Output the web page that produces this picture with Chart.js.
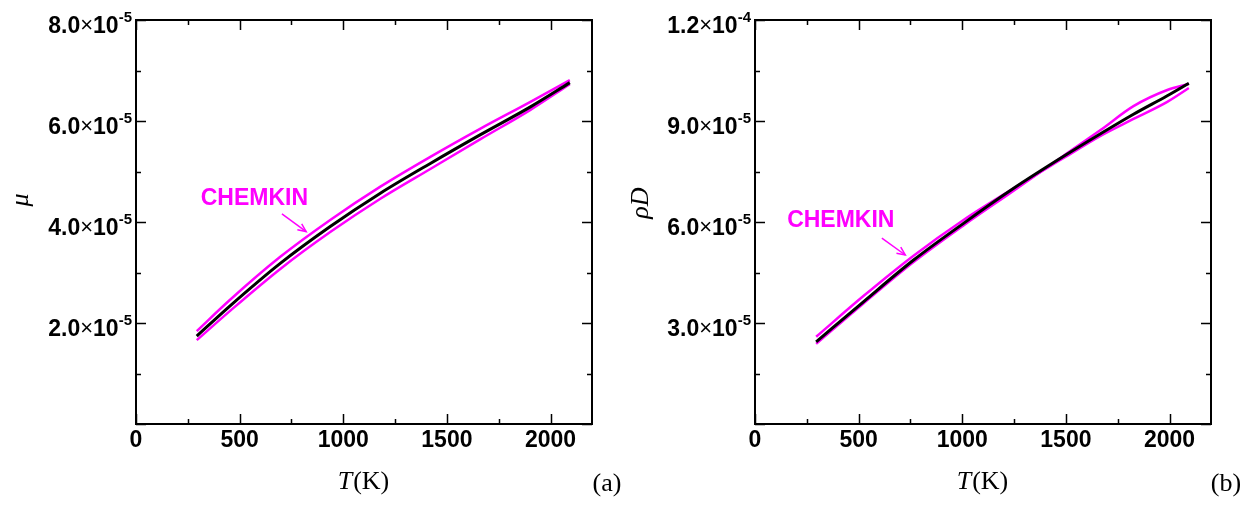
<!DOCTYPE html>
<html>
<head>
<meta charset="utf-8">
<script src="https://cdn.jsdelivr.net/npm/chart.js@4.4.1/dist/chart.umd.min.js"></script>
<style>
  html, body { margin: 0; padding: 0; background: #ffffff; }
  #wrap { position: relative; width: 1258px; height: 508px; overflow: hidden; }
  .panel { position: absolute; top: 0; width: 629px; height: 508px; }
  canvas { display: block; }
</style>
</head>
<body>
<div id="wrap">
  <div class="panel" style="left:0"><canvas id="chartA" width="629" height="508"></canvas></div>
  <div class="panel" style="left:629px"><canvas id="chartB" width="629" height="508"></canvas></div>
</div>
<script>
// ---------- data: panel (a) viscosity mu ----------
const T_A = [293, 454, 696, 937, 1179, 1420, 1662, 1903, 2093];
const MU_MODEL = [1.74e-5, 2.34e-5, 3.18e-5, 3.91e-5, 4.57e-5, 5.16e-5, 5.73e-5, 6.28e-5, 6.76e-5];
const MU_CHEMKIN_UPPER = [1.84e-5, 2.46e-5, 3.31e-5, 4.04e-5, 4.70e-5, 5.29e-5, 5.85e-5, 6.38e-5, 6.81e-5];
const MU_CHEMKIN_LOWER = [1.66e-5, 2.24e-5, 3.07e-5, 3.80e-5, 4.46e-5, 5.05e-5, 5.64e-5, 6.22e-5, 6.73e-5];

// ---------- data: panel (b) rho*D ----------
const T_B = [295, 523, 765, 1006, 1248, 1489, 1667, 1826, 1989, 2093];
const RHOD_MODEL = [2.44e-5, 3.63e-5, 4.87e-5, 5.96e-5, 7.00e-5, 7.95e-5, 8.62e-5, 9.20e-5, 9.75e-5, 10.12e-5];
const RHOD_CHEMKIN_A = [2.59e-5, 3.80e-5, 5.00e-5, 6.06e-5, 7.00e-5, 7.90e-5, 8.56e-5, 9.06e-5, 9.57e-5, 9.98e-5];
const RHOD_CHEMKIN_B = [2.38e-5, 3.58e-5, 4.81e-5, 5.90e-5, 6.93e-5, 7.97e-5, 8.73e-5, 9.44e-5, 9.92e-5, 10.10e-5];

// ---------- tick labels ----------
const X_TICKS = [0, 500, 1000, 1500, 2000];
const Y_TICKS_A = [2e-5, 4e-5, 6e-5, 8e-5];
const Y_MANT_A = ['2.0', '4.0', '6.0', '8.0'];
const Y_EXP_A = ['-5', '-5', '-5', '-5'];
const Y_TICKS_B = [3e-5, 6e-5, 9e-5, 12e-5];
const Y_MANT_B = ['3.0', '6.0', '9.0', '1.2'];
const Y_EXP_B = ['-5', '-5', '-5', '-4'];

// annotation anchor points in data coordinates
const NOTE_A = { label: 'CHEMKIN', text: [312, 4.47e-5], from: [704, 4.16e-5], to: [821, 3.81e-5] };
const NOTE_B = { label: 'CHEMKIN', text: [155, 6.03e-5], from: [612, 5.52e-5], to: [725, 5.02e-5] };

const MAGENTA = '#ff00ff';
const SANS = '"Liberation Sans", Arial, sans-serif';
const SERIF = '"Liberation Serif", "Times New Roman", serif';

function pts(xs, ys) { return xs.map((x, i) => ({ x: x, y: ys[i] })); }

function makePlugin(cfg) {
  return {
    id: 'decor_' + cfg.tag,
    afterDraw(chart) {
      const ctx = chart.ctx;
      const xs = chart.scales.x, ys = chart.scales.y;
      const a = chart.chartArea;
      ctx.save();
      ctx.strokeStyle = '#000';
      ctx.fillStyle = '#000';
      ctx.lineWidth = 2;
      // frame
      ctx.strokeRect(a.left, a.top, a.right - a.left, a.bottom - a.top);
      // x ticks (major 500, minor 250), inward on bottom and top
      ctx.lineWidth = 1.5;
      for (let v = 0; v <= 2200 + 1e-9; v += 250) {
        const px = Math.round(xs.getPixelForValue(v)) + 0.5;
        const len = (v % 500 === 0) ? 10 : 5;
        ctx.beginPath();
        ctx.moveTo(px, a.bottom); ctx.lineTo(px, a.bottom - len);
        ctx.moveTo(px, a.top); ctx.lineTo(px, a.top + len);
        ctx.stroke();
      }
      // y ticks
      const nMinor = Math.round(cfg.yMax / cfg.yMinor);
      for (let i = 0; i <= nMinor; i++) {
        const v = i * cfg.yMinor;
        const py = Math.round(ys.getPixelForValue(v)) + 0.5;
        const len = (i % 2 === 0) ? 10 : 5;
        ctx.beginPath();
        ctx.moveTo(a.left, py); ctx.lineTo(a.left + len, py);
        ctx.moveTo(a.right, py); ctx.lineTo(a.right - len, py);
        ctx.stroke();
      }
      // x tick labels
      ctx.font = 'bold 23px ' + SANS;
      ctx.textAlign = 'center';
      ctx.textBaseline = 'alphabetic';
      X_TICKS.forEach(v => {
        ctx.fillText(String(v), xs.getPixelForValue(v), a.bottom + 23);
      });
      // y tick labels with superscript exponent
      ctx.textAlign = 'left';
      cfg.yTicks.forEach((v, i) => {
        const py = ys.getPixelForValue(v);
        const mant = cfg.mant[i], ex = cfg.exp[i];
        ctx.font = 'bold 23px ' + SANS; const w1 = ctx.measureText(mant).width;
        ctx.font = '22px ' + SANS; const w2 = ctx.measureText('\u00d7').width;
        ctx.font = 'bold 23px ' + SANS; const w3 = ctx.measureText('10').width;
        ctx.font = 'bold 15px ' + SANS; const w4 = ctx.measureText(ex).width;
        let x0 = a.left - 4 - (w1 + w2 + w3 + w4);
        const base = py + 13;
        ctx.font = 'bold 23px ' + SANS; ctx.fillText(mant, x0, base); x0 += w1;
        ctx.font = '22px ' + SANS; ctx.fillText('\u00d7', x0, base - 1); x0 += w2;
        ctx.font = 'bold 23px ' + SANS; ctx.fillText('10', x0, base); x0 += w3;
        ctx.font = 'bold 15px ' + SANS; ctx.fillText(ex, x0, py + 2);
      });
      // x axis title: T(K)
      ctx.textBaseline = 'alphabetic';
      ctx.font = 'italic 26px ' + SERIF;
      const wT = ctx.measureText('T').width;
      ctx.font = '26px ' + SERIF;
      const wK = ctx.measureText('(K)').width;
      const tx0 = (a.left + a.right) / 2 - (wT + wK) / 2 - 1;
      ctx.font = 'italic 26px ' + SERIF; ctx.fillText('T', tx0, 489);
      ctx.font = '26px ' + SERIF; ctx.fillText('(K)', tx0 + wT + 1, 489);
      // panel tag
      ctx.textAlign = 'center';
      ctx.fillText(cfg.tagText, a.right + 15, 491);
      // y axis title (rotated)
      ctx.save();
      ctx.translate(cfg.yTitleX, cfg.yTitleY);
      ctx.rotate(-Math.PI / 2);
      ctx.font = 'italic 26px ' + SERIF;
      ctx.textAlign = 'center';
      ctx.textBaseline = 'middle';
      ctx.fillText(cfg.yTitle, 0, 0);
      ctx.restore();
      // CHEMKIN annotation
      const n = cfg.note;
      ctx.fillStyle = MAGENTA;
      ctx.strokeStyle = MAGENTA;
      ctx.font = 'bold 23px ' + SANS;
      ctx.textAlign = 'left';
      ctx.textBaseline = 'middle';
      ctx.fillText(n.label, xs.getPixelForValue(n.text[0]), ys.getPixelForValue(n.text[1]));
      const fx = xs.getPixelForValue(n.from[0]), fy = ys.getPixelForValue(n.from[1]);
      const tx = xs.getPixelForValue(n.to[0]), ty = ys.getPixelForValue(n.to[1]);
      ctx.lineWidth = 1.5;
      ctx.beginPath(); ctx.moveTo(fx, fy); ctx.lineTo(tx, ty); ctx.stroke();
      const ang = Math.atan2(ty - fy, tx - fx);
      const hl = 9, hw = 0.42;
      ctx.beginPath();
      ctx.moveTo(tx - hl * Math.cos(ang - hw), ty - hl * Math.sin(ang - hw));
      ctx.lineTo(tx, ty);
      ctx.lineTo(tx - hl * Math.cos(ang + hw), ty - hl * Math.sin(ang + hw));
      ctx.stroke();
      ctx.restore();
    }
  };
}

function makeChart(id, cfg) {
  return new Chart(document.getElementById(id), {
    type: 'line',
    data: {
      datasets: [
        { label: 'model', data: pts(cfg.T, cfg.model), borderColor: '#000', borderWidth: 3, order: 0 },
        { label: 'CHEMKIN', data: pts(cfg.T, cfg.up), borderColor: MAGENTA, borderWidth: 2.5, order: 1 },
        { label: 'CHEMKIN', data: pts(cfg.T, cfg.low), borderColor: MAGENTA, borderWidth: 2.5, order: 2 }
      ]
    },
    options: {
      responsive: false,
      animation: false,
      devicePixelRatio: 1,
      layout: { padding: { left: 0, right: cfg.padRight, top: 20, bottom: 0 } },
      elements: { point: { radius: 0 }, line: { cubicInterpolationMode: 'monotone', fill: false } },
      plugins: { legend: { display: false }, title: { display: false }, tooltip: { enabled: false } },
      scales: {
        x: {
          type: 'linear', min: 0, max: 2200,
          ticks: { display: false, stepSize: 250 },
          grid: { display: false }, border: { display: false },
          afterFit(s) { s.height = 84; }
        },
        y: {
          type: 'linear', min: 0, max: cfg.yMax,
          ticks: { display: false, stepSize: cfg.yMinor },
          grid: { display: false }, border: { display: false },
          afterFit(s) { s.width = cfg.yWidth; }
        }
      }
    },
    plugins: [makePlugin(cfg)]
  });
}

makeChart('chartA', {
  tag: 'a', tagText: '(a)', T: T_A, model: MU_MODEL, up: MU_CHEMKIN_UPPER, low: MU_CHEMKIN_LOWER,
  yMax: 8e-5, yMinor: 1e-5, yTicks: Y_TICKS_A, mant: Y_MANT_A, exp: Y_EXP_A,
  yWidth: 136, padRight: 37, yTitle: '\u03bc', yTitleX: 21, yTitleY: 200, note: NOTE_A
});
makeChart('chartB', {
  tag: 'b', tagText: '(b)', T: T_B, model: RHOD_MODEL, up: RHOD_CHEMKIN_A, low: RHOD_CHEMKIN_B,
  yMax: 12e-5, yMinor: 1.5e-5, yTicks: Y_TICKS_B, mant: Y_MANT_B, exp: Y_EXP_B,
  yWidth: 126, padRight: 47, yTitle: '\u03c1D', yTitleX: 12, yTitleY: 203, note: NOTE_B
});
</script>
</body>
</html>
